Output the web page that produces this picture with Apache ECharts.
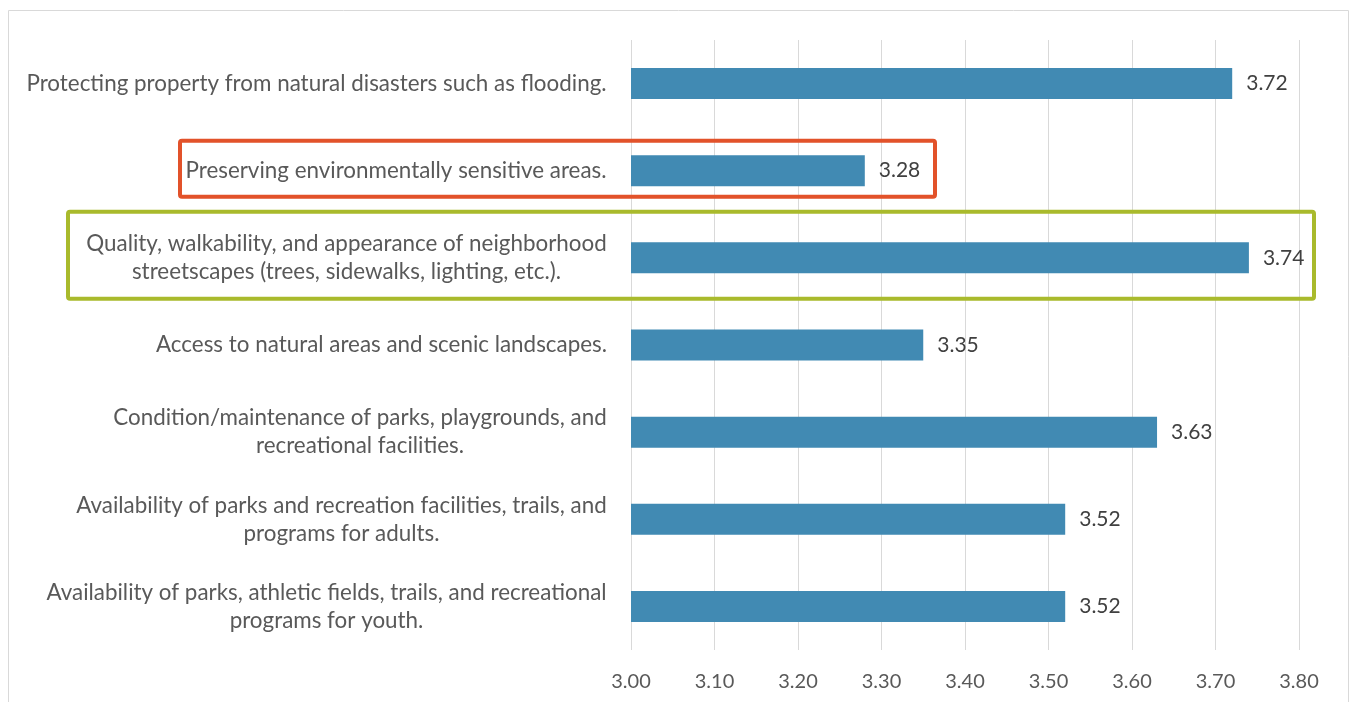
<!DOCTYPE html>
<html><head><meta charset="utf-8">
<script src="https://cdn.jsdelivr.net/npm/echarts@6/dist/echarts.min.js"></script>
<style>html,body{margin:0;padding:0;background:#fff}#c{width:1353px;height:702px}</style>
</head><body><div id="c"></div>
<script>
const categories = [
  "Protecting property from natural disasters such as flooding.",
  "Preserving environmentally sensitive areas.",
  "Quality, walkability, and appearance of neighborhood\nstreetscapes (trees, sidewalks, lighting, etc.).",
  "Access to natural areas and scenic landscapes.",
  "Condition/maintenance of parks, playgrounds, and\nrecreational facilities.",
  "Availability of parks and recreation facilities, trails, and\nprograms for adults.",
  "Availability of parks, athletic fields, trails, and recreational\nprograms for youth."
];
const values = [3.72, 3.28, 3.74, 3.35, 3.63, 3.52, 3.52];
const xMin = 3.0, xMax = 3.8, xStep = 0.1;
const highlightRed = 1, highlightGreen = 2;

const FONT = 'Lato';
const CAT_SIZE = 22.4;

// measure each label's widest line so the lines can be centred within the block
const ctx = document.createElement('canvas').getContext('2d');
ctx.font = CAT_SIZE + 'px ' + FONT;
const rich = {};
categories.forEach((c, i) => {
  const w = Math.max(...c.split('\n').map(s => ctx.measureText(s).width));
  rich['c' + i] = {width: Math.ceil(w), align: 'center', color: '#595959',
    fontFamily: FONT, fontSize: CAT_SIZE, lineHeight: 28};
});

const chart = echarts.init(document.getElementById('c'));
chart.setOption({
  animation: false,
  grid: {left: 631, right: 54, top: 40, bottom: 52, containLabel: false},
  xAxis: {
    type: 'value', min: xMin, max: xMax, interval: xStep,
    axisLine: {show: false}, axisTick: {show: false},
    splitLine: {show: true, lineStyle: {color: '#D9D9D9', width: 1}},
    axisLabel: {color: '#595959', fontFamily: FONT, fontSize: 20, margin: 22,
      formatter: v => v.toFixed(2)}
  },
  yAxis: {
    type: 'category', data: categories, inverse: true,
    axisLine: {show: false}, axisTick: {show: false},
    axisLabel: {color: '#595959', fontFamily: FONT, fontSize: CAT_SIZE, margin: 24,
      lineHeight: 28, align: 'right', rich: rich,
      formatter: (v, i) => v.split('\n').map(s => '{c' + i + '|' + s + '}').join('\n')}
  },
  series: [{
    type: 'bar', data: values, barWidth: 31,
    itemStyle: {color: '#418AB3'},
    label: {show: true, position: 'right', distance: 14, color: '#404040',
      fontFamily: FONT, fontSize: 21, formatter: p => p.value.toFixed(2)}
  }]
});

function boxes() {
  const yR = chart.convertToPixel({yAxisIndex: 0}, categories[highlightRed]);
  const yG = chart.convertToPixel({yAxisIndex: 0}, categories[highlightGreen]);
  chart.setOption({graphic: [
    {type: 'rect', shape: {x: 8.5, y: 10.5, width: 1340, height: 720},
      style: {fill: 'none', stroke: '#D9D9D9', lineWidth: 1}, silent: true},
    {type: 'rect', shape: {x: 180, y: yR - 30, width: 755, height: 56, r: 2},
      style: {fill: 'none', stroke: '#E2522A', lineWidth: 4}, silent: true},
    {type: 'rect', shape: {x: 68, y: yG - 46, width: 1246, height: 87, r: 2},
      style: {fill: 'none', stroke: '#A9BA2C', lineWidth: 4}, silent: true}
  ]});
}
boxes();
</script></body></html>
